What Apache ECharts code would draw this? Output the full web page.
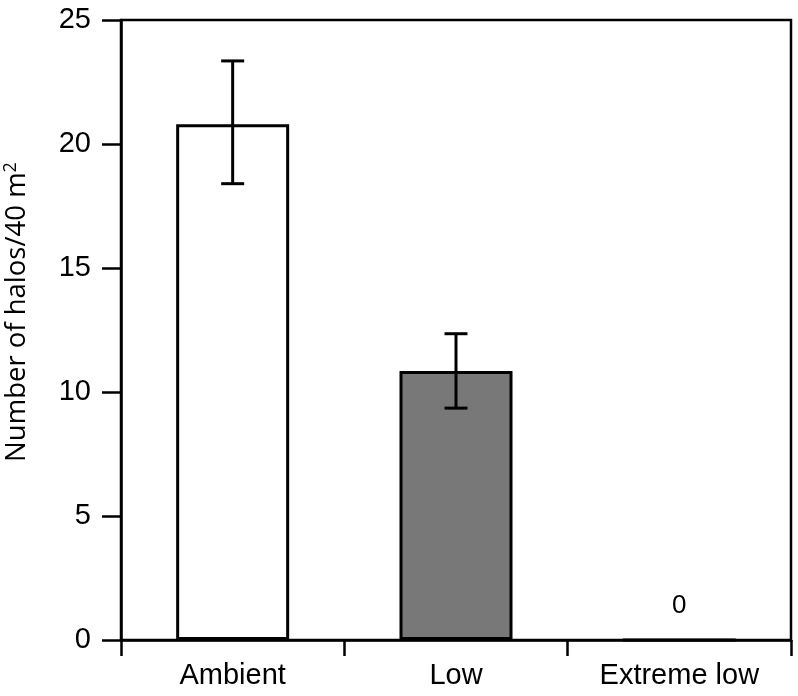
<!DOCTYPE html>
<html><head><meta charset="utf-8">
<script src="https://cdn.jsdelivr.net/npm/echarts@6/dist/echarts.min.js"></script>
<style>html,body{margin:0;padding:0;background:#fff}#c{width:798px;height:696px}</style>
</head><body><div id="c"></div>
<script>
const categories = ['Ambient', 'Low', 'Extreme low'];
const values = [20.8, 10.85, 0];
const errLow = [18.4, 9.35, 0];
const errHigh = [23.35, 12.35, 0];
const barColors = ['#ffffff', '#787878', '#ffffff'];
const yTicks = [0, 5, 10, 15, 20, 25];

const chart = echarts.init(document.getElementById('c'));
const font = '"Liberation Sans", Arial, Helvetica, sans-serif';
const nameFont = '"Open Sans", "Noto Sans", sans-serif';
chart.setOption({
  animation: false,
  backgroundColor: '#fff',
  grid: { left: 121, right: 7, top: 20, bottom: 56, show: true, borderColor: '#000', borderWidth: 2.5,
    backgroundColor: 'transparent', containLabel: false, outerBoundsMode: 'none' },
  xAxis: {
    type: 'category', data: categories,
    axisLine: { lineStyle: { color: '#000', width: 2.5 } },
    axisTick: { show: true, length: 16, lineStyle: { color: '#000', width: 2.5 } },
    axisLabel: { color: '#000', fontSize: 29, fontFamily: font, margin: 21 },
    splitLine: { show: false }
  },
  yAxis: {
    type: 'value', min: 0, max: 25, interval: 5,
    axisLine: { show: true, lineStyle: { color: '#000', width: 2.5 } },
    axisTick: { show: true, length: 19, lineStyle: { color: '#000', width: 2.5 } },
    axisLabel: { color: '#000', fontSize: 29, fontFamily: font, margin: 30,
      formatter: v => yTicks.includes(v) ? String(v) : '' },
    splitLine: { show: false },
    name: 'Number of halos/40 m{sup|2}',
    nameLocation: 'middle', nameGap: 89,
    nameTextStyle: { color: '#000', fontSize: 27.5, fontFamily: nameFont,
      padding: [0, 0, 0, 36],
      rich: { sup: { fontSize: 18, verticalAlign: 'top', padding: [0, 0, 12, 0], fontFamily: nameFont, color: '#000' } } }
  },
  series: [
    {
      type: 'bar', barWidth: 113,
      data: values.map((v, i) => ({ value: v, itemStyle: { color: barColors[i] } })),
      itemStyle: { borderColor: '#000', borderWidth: 3 },
      label: {
        show: true, position: 'top', distance: 20, fontSize: 26, fontFamily: font, color: '#000',
        formatter: p => p.value === 0 ? '0' : ''
      },
      z: 2
    },
    {
      type: 'custom',
      data: categories.map((c, i) => [i, errLow[i], errHigh[i]]),
      renderItem: function (params, api) {
        const i = api.value(0);
        if (api.value(2) === api.value(1)) return null;
        const lo = api.coord([i, api.value(1)]);
        const hi = api.coord([i, api.value(2)]);
        const hw = 11.5;
        const st = { stroke: '#000', lineWidth: 3 };
        return { type: 'group', children: [
          { type: 'line', shape: { x1: hi[0], y1: hi[1], x2: lo[0], y2: lo[1] }, style: st },
          { type: 'line', shape: { x1: hi[0] - hw, y1: hi[1], x2: hi[0] + hw, y2: hi[1] }, style: st },
          { type: 'line', shape: { x1: lo[0] - hw, y1: lo[1], x2: lo[0] + hw, y2: lo[1] }, style: st }
        ] };
      },
      z: 3
    }
  ]
});
</script></body></html>
